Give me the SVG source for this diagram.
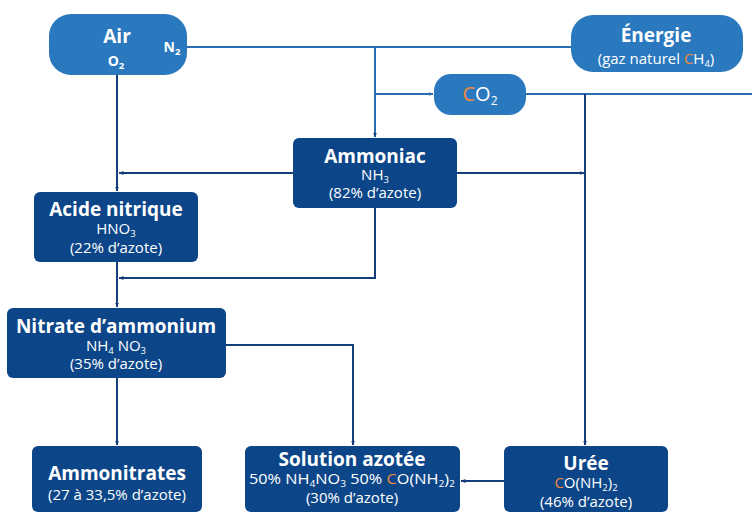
<svg xmlns="http://www.w3.org/2000/svg" width="752" height="516" viewBox="0 0 752 516">
<defs>
<style>
.light{fill:#2a79bf}
.dark{fill:#0c4689}
.t{font-family:"Open Sans","Noto Sans","Liberation Sans",sans-serif;fill:#ffffff;text-anchor:middle}
.h{font-weight:bold;font-size:19px}
.s{font-size:15px}
.sub{font-size:9.5px}
.o{fill:#f08a3a}
.cl{fill:none;stroke:#2a6db3;stroke-width:2}
.cd{fill:none;stroke:#143f7c;stroke-width:2}
</style>
<marker id="ad" viewBox="0 0 10 10" refX="9" refY="5" markerWidth="5" markerHeight="5" orient="auto" markerUnits="userSpaceOnUse"><path d="M0,1 L10,5 L0,9 z" fill="#143f7c"/></marker>
<marker id="al" viewBox="0 0 10 10" refX="9" refY="5" markerWidth="5" markerHeight="5" orient="auto" markerUnits="userSpaceOnUse"><path d="M0,1 L10,5 L0,9 z" fill="#2a6db3"/></marker>
</defs>
<rect width="752" height="516" fill="#ffffff"/>
<g id="connectors">
<path class="cl" d="M187,47 H571"/>
<path class="cl" d="M375,47 V137" marker-end="url(#ad)"/>
<path class="cl" d="M375,94 H433" marker-end="url(#al)"/>
<path class="cl" d="M526,94 H752"/>
<path class="cd" d="M585,94 V445" marker-end="url(#ad)"/>
<path class="cd" d="M457,173 H584" marker-end="url(#ad)"/>
<path class="cd" d="M293,173 H119" marker-end="url(#ad)"/>
<path class="cd" d="M117,75 V191" marker-end="url(#ad)"/>
<path class="cd" d="M375,208 V278 H119" marker-end="url(#ad)"/>
<path class="cd" d="M117,262 V307" marker-end="url(#ad)"/>
<path class="cd" d="M117,378 V445" marker-end="url(#ad)"/>
<path class="cd" d="M226,345 H353 V445" marker-end="url(#ad)"/>
<path class="cd" d="M504,481 H461" marker-end="url(#ad)"/>
</g>
<g id="air">
<rect class="light" x="49" y="14" width="138" height="61" rx="22"/>
<text class="t h" x="117" y="43">Air</text>
<text class="t" x="116" y="66" font-size="14" font-weight="bold">O<tspan class="sub" dy="3">2</tspan></text>
<text class="t" x="172" y="52" font-size="14" font-weight="bold">N<tspan class="sub" dy="3">2</tspan></text>
</g>
<g id="energie">
<rect class="light" x="571" y="15" width="172" height="57" rx="22"/>
<text class="t h" x="656" y="42">Énergie</text>
<text class="t s" x="656" y="64">(gaz naturel <tspan class="o">C</tspan>H<tspan class="sub" dy="3">4</tspan><tspan dy="-3">)</tspan></text>
</g>
<g id="co2">
<rect class="light" x="434" y="74" width="92" height="41" rx="17"/>
<text class="t" x="480" y="101" font-size="20"><tspan class="o">C</tspan>O<tspan dy="4" font-size="12">2</tspan></text>
</g>
<g id="ammoniac">
<rect class="dark" x="293" y="138" width="164" height="70" rx="6"/>
<text class="t h" x="375" y="163">Ammoniac</text>
<text class="t s" x="375" y="180">NH<tspan class="sub" dy="3">3</tspan></text>
<text class="t s" x="375" y="198">(82% d’azote)</text>
</g>
<g id="acide">
<rect class="dark" x="34" y="192" width="164" height="70" rx="6"/>
<text class="t h" x="116" y="216">Acide nitrique</text>
<text class="t s" x="116" y="234">HNO<tspan class="sub" dy="3">3</tspan></text>
<text class="t s" x="116" y="253">(22% d’azote)</text>
</g>
<g id="nitrate">
<rect class="dark" x="7" y="308" width="219" height="70" rx="6"/>
<text class="t h" x="116" y="333">Nitrate d’ammonium</text>
<text class="t s" x="116" y="351">NH<tspan class="sub" dy="3">4</tspan><tspan dy="-3"> NO</tspan><tspan class="sub" dy="3">3</tspan></text>
<text class="t s" x="116" y="369">(35% d’azote)</text>
</g>
<g id="ammonitrates">
<rect class="dark" x="32" y="446" width="170" height="66" rx="6"/>
<text class="t h" x="117" y="480">Ammonitrates</text>
<text class="t s" x="117" y="500">(27 à 33,5% d’azote)</text>
</g>
<g id="solution">
<rect class="dark" x="245" y="446" width="215" height="66" rx="6"/>
<text class="t h" x="352" y="466">Solution azotée</text>
<text class="t s" x="352" y="484" textLength="206" lengthAdjust="spacingAndGlyphs">50% NH<tspan class="sub" dy="3">4</tspan><tspan dy="-3">NO</tspan><tspan class="sub" dy="3">3</tspan><tspan dy="-3">  50% </tspan><tspan class="o">C</tspan>O(NH<tspan class="sub" dy="3">2</tspan><tspan dy="-3">)</tspan><tspan class="sub" dy="3">2</tspan></text>
<text class="t s" x="352" y="503">(30% d’azote)</text>
</g>
<g id="uree">
<rect class="dark" x="504" y="446" width="164" height="66" rx="6"/>
<text class="t h" x="586" y="470">Urée</text>
<text class="t s" x="586" y="488"><tspan class="o">C</tspan>O(NH<tspan class="sub" dy="3">2</tspan><tspan dy="-3">)</tspan><tspan class="sub" dy="3">2</tspan></text>
<text class="t s" x="586" y="507">(46% d’azote)</text>
</g>
</svg>
